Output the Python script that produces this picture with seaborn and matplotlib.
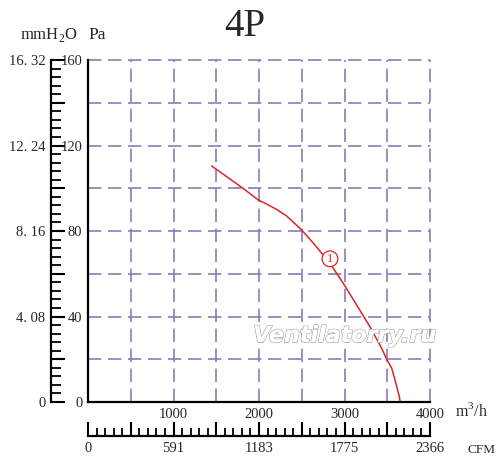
import numpy as np
import matplotlib
matplotlib.use("Agg")
import matplotlib.pyplot as plt
import matplotlib.patheffects as pe
import seaborn as sns

# curve
flow = [1447, 1816, 1992, 2090, 2207, 2324, 2499, 2655, 2830, 2986, 3142,
        3298, 3435, 3493, 3552, 3591, 3641, 3652]
pressure = [110.4, 99.9, 94.5, 92.6, 90.1, 87.0, 80.5, 73.4, 64.9, 55.5, 45.4,
            35.2, 25.1, 20.0, 15.8, 10.3, 2.5, 0]

# tick labels
pa_ticks = list(range(0, 161, 20))
pa_labels = ["0", "", "40", "", "80", "", "120", "", "160"]
mm_labels = ["0", "", "4. 08", "", "8. 16", "", "12. 24", "", "16. 32"]
q_ticks = list(range(0, 4001, 500))
q_labels = ["", "", "1000", "", "2000", "", "3000", "", "4000"]
cfm_labels = ["0", "", "591", "", "1183", "", "1775", "", "2366"]

sns.set_theme(style="white")
plt.rcParams['font.family'] = ['Liberation Serif', 'DejaVu Serif']
plt.rcParams['mathtext.fontset'] = 'custom'
plt.rcParams['mathtext.rm'] = 'Liberation Serif'

grid_col = "#8a7bb8"
red = "#d82626"
fs = 10.5

fig = plt.figure(figsize=(5, 4.72), dpi=100)
ax = fig.add_axes([88 / 500, 70 / 472, 342 / 500, 342 / 472])

sns.lineplot(x=flow, y=pressure, ax=ax, color=red, lw=1.1, sort=False)

ax.set_xlim(0, 4000)
ax.set_ylim(0, 160)
ax.set_xlabel("")
ax.set_ylabel("")

for s in ["top", "right"]:
    ax.spines[s].set_visible(False)
for s in ["left", "bottom"]:
    ax.spines[s].set_color("black")
    ax.spines[s].set_linewidth(1.6)

ax.set_xticks(q_ticks, labels=q_labels)
ax.set_xticks(np.arange(0, 4001, 100), minor=True)
ax.set_yticks(pa_ticks, labels=pa_labels)
ax.set_yticks(np.arange(0, 161, 4), minor=True)
ax.tick_params(which="major", direction="in", length=10, width=1.5,
               color="black", labelsize=fs, pad=4)
ax.tick_params(which="minor", direction="in", length=7, width=1.3, color="black")
ax.tick_params(axis="x", which="minor", length=6)

ax.grid(True, which="major", color=grid_col, lw=1.2, linestyle=(0, (8, 4)))
for gl in ax.get_xgridlines() + ax.get_ygridlines():
    gl.set_clip_on(False)
ax.set_axisbelow(True)

# mmH2O axis
mm = ax.secondary_yaxis(-37 / 342)
mm.set_yticks(pa_ticks, labels=mm_labels)
mm.set_yticks(np.arange(0, 161, 4), minor=True)
mm.spines["left"].set_linewidth(1.6)
mm.spines["left"].set_color("black")
mm.tick_params(which="major", direction="in", length=10, width=1.5,
               color="black", labelsize=fs, pad=4)
mm.tick_params(which="minor", direction="in", length=7, width=1.3, color="black")

# CFM axis
cfm = ax.secondary_xaxis(-34 / 342)
cfm.set_xticks(q_ticks, labels=cfm_labels)
cfm.set_xticks(np.arange(0, 4001, 100), minor=True)
cfm.spines["bottom"].set_linewidth(1.6)
cfm.spines["bottom"].set_color("black")
cfm.tick_params(which="major", direction="in", length=10, width=1.5,
                color="black", labelsize=fs, pad=4)
cfm.tick_params(which="minor", direction="in", length=6, width=1.3, color="black")

# curve marker
ax.text(2830, 67, "1", color=red, fontsize=9, ha="center", va="center",
        bbox=dict(boxstyle="circle,pad=0.15", fc="white", ec=red, lw=0.9))

# texts
fig.text(245 / 500, 1 - 27 / 472, "4P", fontsize=28, ha="center", va="center")
fig.text(49 / 500, 1 - 35 / 472, "mmH$_2$O", fontsize=12, ha="center", va="center")
fig.text(97 / 500, 1 - 35 / 472, "Pa", fontsize=12.5, ha="center", va="center")
fig.text(471 / 500, 1 - 411 / 472, "m$^3$/h", fontsize=11.5, ha="center", va="center")
fig.text(481 / 500, 1 - 450 / 472, "CFM", fontsize=9.5, ha="center", va="center")

wm = fig.text(345 / 500, 1 - 336 / 472, "Ventilatorry.ru", fontsize=16,
              family="DejaVu Sans", style="italic", weight="bold",
              color="white", ha="center", va="center")
wm.set_path_effects([pe.withStroke(linewidth=1.2, foreground="#b0b0b0"), pe.Normal()])

fig.savefig("out.png", dpi=100)
